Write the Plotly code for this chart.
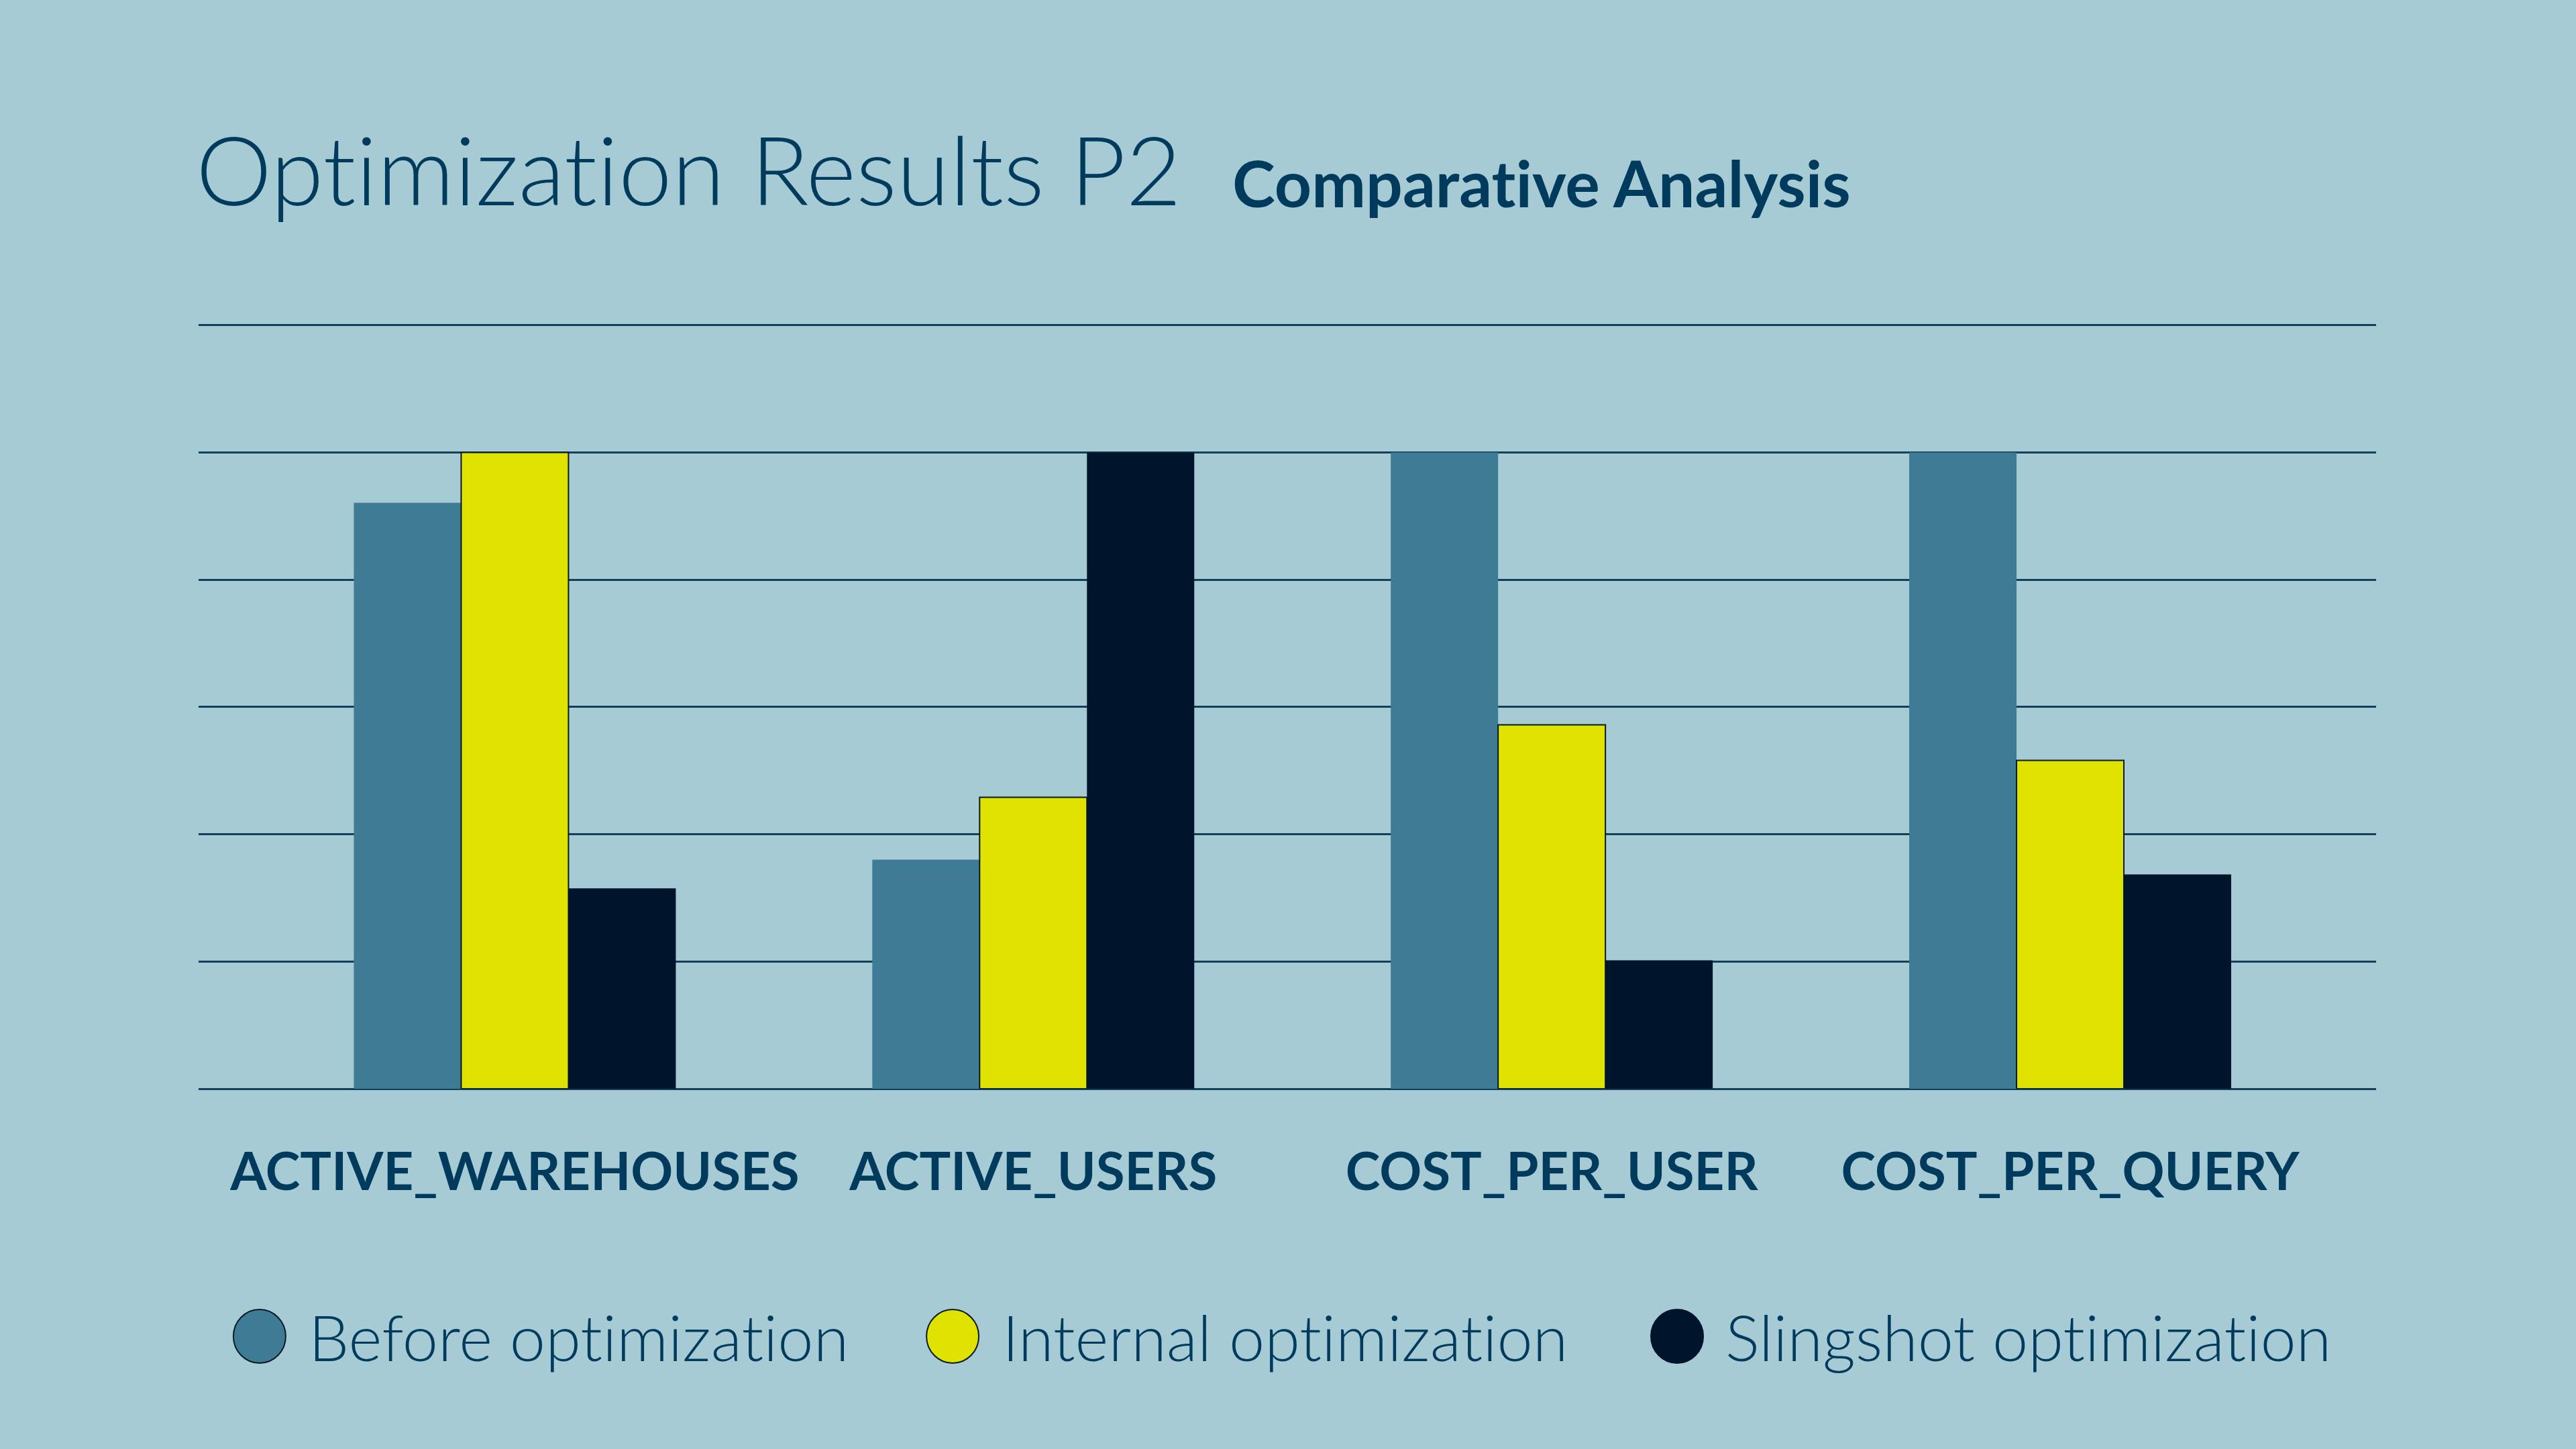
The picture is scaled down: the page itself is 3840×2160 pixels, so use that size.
import plotly.graph_objects as go

categories = ["ACTIVE_WAREHOUSES", "ACTIVE_USERS", "COST_PER_USER", "COST_PER_QUERY"]
series_names = ["Before optimization", "Internal optimization", "Slingshot optimization"]
before_values = [92.1, 36.0, 100, 100]
internal_values = [100, 45.8, 57.2, 51.6]
slingshot_values = [31.5, 100, 20.2, 33.7]
y_ticks = [0, 20, 40, 60, 80, 100, 120]

BG = "#a6cbd5"
TEXT = "#003a5c"
GRID = "#10405a"
colors = ["#3e7b94", "#e0e200", "#00142b"]
outline_widths = [0, 2, 0]
values = [before_values, internal_values, slingshot_values]

NOLIG = '<span style="font-variant-ligatures:none">{}</span>'

fig = go.Figure()
for name, vals, col, lw in zip(series_names, values, colors, outline_widths):
    fig.add_trace(go.Bar(
        x=categories, y=vals, name=name,
        marker=dict(color=col, line=dict(color="#0a1a28", width=lw)),
        showlegend=False,
    ))

W, H = 3840, 2160
L, R, T, B = 296, 298, 483, 537

fig.update_layout(
    width=W, height=H,
    paper_bgcolor=BG, plot_bgcolor=BG,
    margin=dict(l=L, r=R, t=T, b=B, autoexpand=False),
    barmode="group", bargap=0.379, bargroupgap=0,
    showlegend=False,
    font=dict(family="Lato", color=TEXT),
)
fig.update_xaxes(
    type="category", range=[-0.61, 3.59],
    showgrid=False, zeroline=False, showline=False,
    ticks="outside", ticklen=56, tickcolor="rgba(0,0,0,0)",
    tickfont=dict(family="Lato", size=78, color=TEXT, weight="bold"),
)
fig.update_yaxes(
    range=[0, 120.2], tickvals=y_ticks, showticklabels=False,
    showgrid=True, gridcolor=GRID, gridwidth=2.5,
    zeroline=True, zerolinecolor=GRID, zerolinewidth=2.5,
    showline=False,
)

# Title and subtitle
fig.add_annotation(text=NOLIG.format("Optimization Results P2"), xref="paper", yref="paper",
                   x=-0.002, y=1.204, xanchor="left", yanchor="middle", showarrow=False,
                   font=dict(family="Lato", size=143, color=TEXT, weight=300))
fig.add_annotation(text=NOLIG.format("Comparative Analysis"), xref="paper", yref="paper",
                   x=0.474, y=1.185, xanchor="left", yanchor="middle", showarrow=False,
                   font=dict(family="Lato", size=96.5, color=TEXT, weight="bold"))

# Custom legend with large circles
circle_x = [0.0280, 0.3463, 0.6790]
text_x = [0.0500, 0.3685, 0.7005]
legend_y = -0.3237
legend_outline = ["#0a1a28", "#0a1a28", colors[2]]
for name, col, cx, tx, oc in zip(series_names, colors, circle_x, text_x, legend_outline):
    fig.add_shape(type="circle", xref="paper", yref="paper",
                  xsizemode="pixel", ysizemode="pixel",
                  xanchor=cx, yanchor=legend_y, x0=-39, x1=39, y0=-40, y1=40,
                  fillcolor=col, line=dict(color=oc, width=2))
    fig.add_annotation(text=NOLIG.format(name), xref="paper", yref="paper",
                       x=tx, y=legend_y, xanchor="left", yanchor="middle", showarrow=False,
                       font=dict(family="Lato", size=95.5, color=TEXT, weight=300))

fig.write_html("out.html")
